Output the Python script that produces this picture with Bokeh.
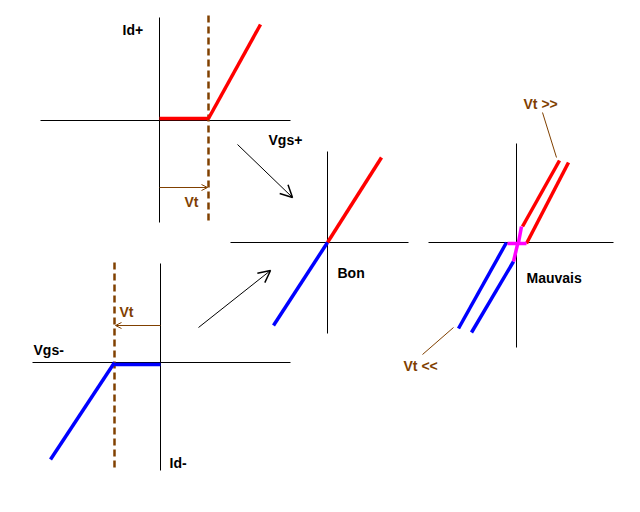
from bokeh.plotting import figure
from bokeh.models import Range1d, Arrow, OpenHead
from bokeh.core.properties import value
from bokeh.embed import file_html
from bokeh.resources import INLINE

# ---- diagram data (reference pixel coordinates) ----
# black axes: x0, y0, x1, y1
axes_x0 = [40, 159, 230, 327, 32, 160, 428, 516]
axes_y0 = [120, 17, 242, 151, 362, 263, 242, 143]
axes_x1 = [290, 159, 408, 327, 290, 160, 613, 516]
axes_y1 = [120, 222, 242, 333, 362, 470, 242, 347]

# red characteristic segments
red_x0 = [159, 208, 327, 522, 526]
red_y0 = [118, 118, 242, 226, 243]
red_x1 = [208, 260, 381, 559, 568]
red_y1 = [118, 24, 157, 160, 162]

# blue characteristic segments
blue_x0 = [114, 114, 327, 506, 513]
blue_y0 = [364, 362, 242, 242, 261]
blue_x1 = [160, 50, 273, 458, 471]
blue_y1 = [364, 459, 325, 328, 332]

# magenta transition
mag_x0 = [521, 517, 507]
mag_y0 = [226, 244, 243]
mag_x1 = [518, 513, 526]
mag_y1 = [242, 261, 243]

# brown dashed threshold lines
dash_x = [208, 114]
dash_y0 = [15, 262]
dash_y1 = [222, 468]

# brown leader lines
lead_x0 = [542, 453]
lead_y0 = [112, 327]
lead_x1 = [556, 422]
lead_y1 = [157, 354]

# arrows
black_arrows = [(237, 144, 292, 197), (198, 327, 270, 270)]
brown_arrows = [(159, 187, 207, 187), (160, 325, 115, 325)]

# labels
black_labels = ["Id+", "Vgs+", "Bon", "Mauvais", "Vgs-", "Id-"]
black_lx = [122, 268, 337, 526, 33, 169]
black_ly = [29, 139, 272, 277, 349, 462]
brown_labels = ["Vt", "Vt", "Vt >>", "Vt <<"]
brown_lx = [184, 119, 523, 403]
brown_ly = [201, 311, 103, 365]

BROWN = "#804000"
FONT = "Liberation Sans"

p = figure(width=624, height=496, output_backend="svg", toolbar_location=None,
           x_range=Range1d(0, 624), y_range=Range1d(496, 0),
           min_border=0)
p.axis.visible = False
p.grid.visible = False
p.outline_line_color = None
p.background_fill_color = "white"
p.border_fill_color = "white"

p.segment(axes_x0, axes_y0, axes_x1, axes_y1, line_color="black", line_width=1)
p.segment(dash_x, dash_y0, dash_x, dash_y1, line_color=BROWN, line_width=2.5, line_dash="7 4")
p.segment(lead_x0, lead_y0, lead_x1, lead_y1, line_color=BROWN, line_width=1)
p.segment(red_x0, red_y0, red_x1, red_y1, line_color="#ff0000", line_width=3.5)
p.segment(blue_x0, blue_y0, blue_x1, blue_y1, line_color="#0000ff", line_width=3.5)
p.segment(mag_x0, mag_y0, mag_x1, mag_y1, line_color="#ff00ff", line_width=3.5)

for (x0, y0, x1, y1) in black_arrows:
    p.add_layout(Arrow(x_start=x0, y_start=y0, x_end=x1, y_end=y1,
                       line_color="black", line_width=1,
                       end=OpenHead(size=12, line_color="black", line_width=1.5)))
for (x0, y0, x1, y1) in brown_arrows:
    p.add_layout(Arrow(x_start=x0, y_start=y0, x_end=x1, y_end=y1,
                       line_color=BROWN, line_width=1,
                       end=OpenHead(size=6, line_color=BROWN, line_width=1)))

p.text(black_lx, black_ly, text=black_labels, text_color="black",
       text_font=value(FONT), text_font_size="14px",
       text_font_style="bold", text_baseline="middle", text_align="left")
p.text(brown_lx, brown_ly, text=brown_labels, text_color=BROWN,
       text_font=value(FONT), text_font_size="14px",
       text_font_style="bold", text_baseline="middle", text_align="left")

open("out.html", "w").write(file_html(p, INLINE))
